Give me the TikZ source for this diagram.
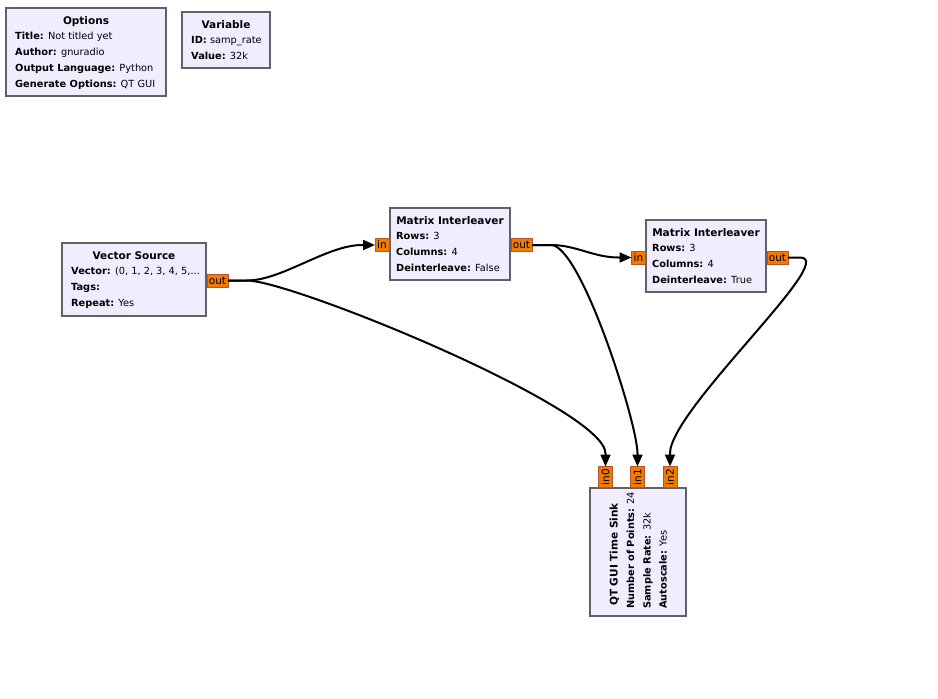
\documentclass[tikz,border=0pt]{standalone}
\usepackage{fontspec}
\setmainfont{DejaVu Sans}
\usetikzlibrary{arrows.meta}
\definecolor{blkfill}{RGB}{241,237,255}
\definecolor{blkdraw}{RGB}{96,96,104}
\definecolor{portfill}{RGB}{242,122,0}
\definecolor{portdraw}{RGB}{184,84,40}
\newcommand\grcfont{\fontsize{9.8}{12}\selectfont}
\newcommand\grctitlefont{\fontsize{10.5}{12}\selectfont\bfseries}
\newcommand\grcportfont{\fontsize{10.5}{12}\selectfont}
\begin{document}
\begin{tikzpicture}[x=1pt,y=-1pt,
  blk/.style={draw=blkdraw, fill=blkfill, line width=2pt, inner sep=0pt, outer sep=0pt, anchor=north west},
  ptx/.style={inner sep=0pt, anchor=base west, font=\grcfont},
  ttl/.style={inner sep=0pt, anchor=base, font=\grctitlefont},
  port/.style={draw=portdraw, fill=portfill, line width=1pt, inner sep=0pt, outer sep=0pt, font=\grcportfont, text=black},
  hport/.style={port, minimum height=13pt},
  vport/.style={port, minimum width=14pt, minimum height=21pt},
  conn/.style={line width=2pt, -{Triangle[length=12pt,width=10pt]}}
]
\fill[white] (0,0) rectangle (938,699);
\useasboundingbox (0,0) rectangle (938,699);

% Options
\node[blk, minimum width=160pt, minimum height=88pt] (opt) at (6,8) {};
\node[ttl] (optT) at (86,24.5) {Options};
\node[ptx] (opt1) at (15,39.5) {\textbf{Title:} Not titled yet};
\node[ptx] (opt2) at (15,55.5) {\textbf{Author:} gnuradio};
\node[ptx] (opt3) at (15,71.5) {\textbf{Output Language:} Python};
\node[ptx] (opt4) at (15,87.5) {\textbf{Generate Options:} QT GUI};

% Variable
\node[blk, minimum width=88pt, minimum height=56pt] (var) at (182,12) {};
\node[ttl] (varT) at (226,28.5) {Variable};
\node[ptx] (var1) at (191,43.5) {\textbf{ID:} samp\_rate};
\node[ptx] (var2) at (191,59.5) {\textbf{Value:} 32k};

% Vector Source
\node[blk, minimum width=144pt, minimum height=73pt] (vs) at (62,243) {};
\node[ttl] (vsT) at (134,259.5) {Vector Source};
\node[ptx] (vs1) at (71,274.5) {\textbf{Vector:} (0, 1, 2, 3, 4, 5,...};
\node[ptx] (vs2) at (71,290.5) {\textbf{Tags:}};
\node[ptx] (vs3) at (71,306.5) {\textbf{Repeat:} Yes};
\node[hport, minimum width=21pt] (vsout) at (217.5,280.5) {out};

% Matrix Interleaver 1
\node[blk, minimum width=120pt, minimum height=72pt] (mi1) at (390,208) {};
\node[ttl] (mi1T) at (450,224.5) {Matrix Interleaver};
\node[ptx] (mi11) at (396,239.5) {\textbf{Rows:} 3};
\node[ptx] (mi12) at (396,255.5) {\textbf{Columns:} 4};
\node[ptx] (mi13) at (396,271.5) {\textbf{Deinterleave:} False};
\node[hport, minimum width=14pt] (mi1in) at (382,245) {in};
\node[hport, minimum width=21pt] (mi1out) at (521.5,245) {out};

% Matrix Interleaver 2
\node[blk, minimum width=120pt, minimum height=72pt] (mi2) at (646,220) {};
\node[ttl] (mi2T) at (706,236.5) {Matrix Interleaver};
\node[ptx] (mi21) at (652,251.5) {\textbf{Rows:} 3};
\node[ptx] (mi22) at (652,267.5) {\textbf{Columns:} 4};
\node[ptx] (mi23) at (652,283.5) {\textbf{Deinterleave:} True};
\node[hport, minimum width=14pt] (mi2in) at (638.5,257.5) {in};
\node[hport, minimum width=21pt] (mi2out) at (777.5,257.5) {out};

% QT GUI Time Sink
\node[blk, minimum width=96pt, minimum height=128.5pt] (sink) at (590,487.5) {};
\node[ttl, rotate=90] (sinkT) at (617.5,554.5) {QT GUI Time Sink};
\node[ptx, rotate=90] (sink1) at (634,609) {\textbf{Number of Points:} 24};
\node[ptx, rotate=90] (sink2) at (650.5,609) {\textbf{Sample Rate:} 32k};
\node[ptx, rotate=90] (sink3) at (666.5,609) {\textbf{Autoscale:} Yes};
\node[vport] (sin0) at (605.5,477) {\rotatebox{90}{in0}};
\node[vport] (sin1) at (637.5,477) {\rotatebox{90}{in1}};
\node[vport] (sin2) at (670,477) {\rotatebox{90}{in2}};

% connections
\draw[conn] (vsout.east) -- ++(19,0) .. controls +(35,0) and +(-35,0) .. ([xshift=-13pt]mi1in.west) -- (mi1in.west);
\draw[conn] (vsout.east) -- ++(19,0) .. controls +(45,0) and +(0,-45) .. ([yshift=13pt]sin0.north) -- (sin0.north);
\draw[conn] (mi1out.east) -- ++(19,0) .. controls +(25,0) and +(-25,0) .. ([xshift=-13pt]mi2in.west) -- (mi2in.west);
\draw[conn] (mi1out.east) -- ++(19,0) .. controls +(30,0) and +(0,-30) .. ([yshift=13pt]sin1.north) -- (sin1.north);
\draw[conn] (mi2out.east) -- ++(12,0) .. controls +(40,0) and +(0,-44) .. ([yshift=13pt]sin2.north) -- (sin2.north);
\end{tikzpicture}
\end{document}
